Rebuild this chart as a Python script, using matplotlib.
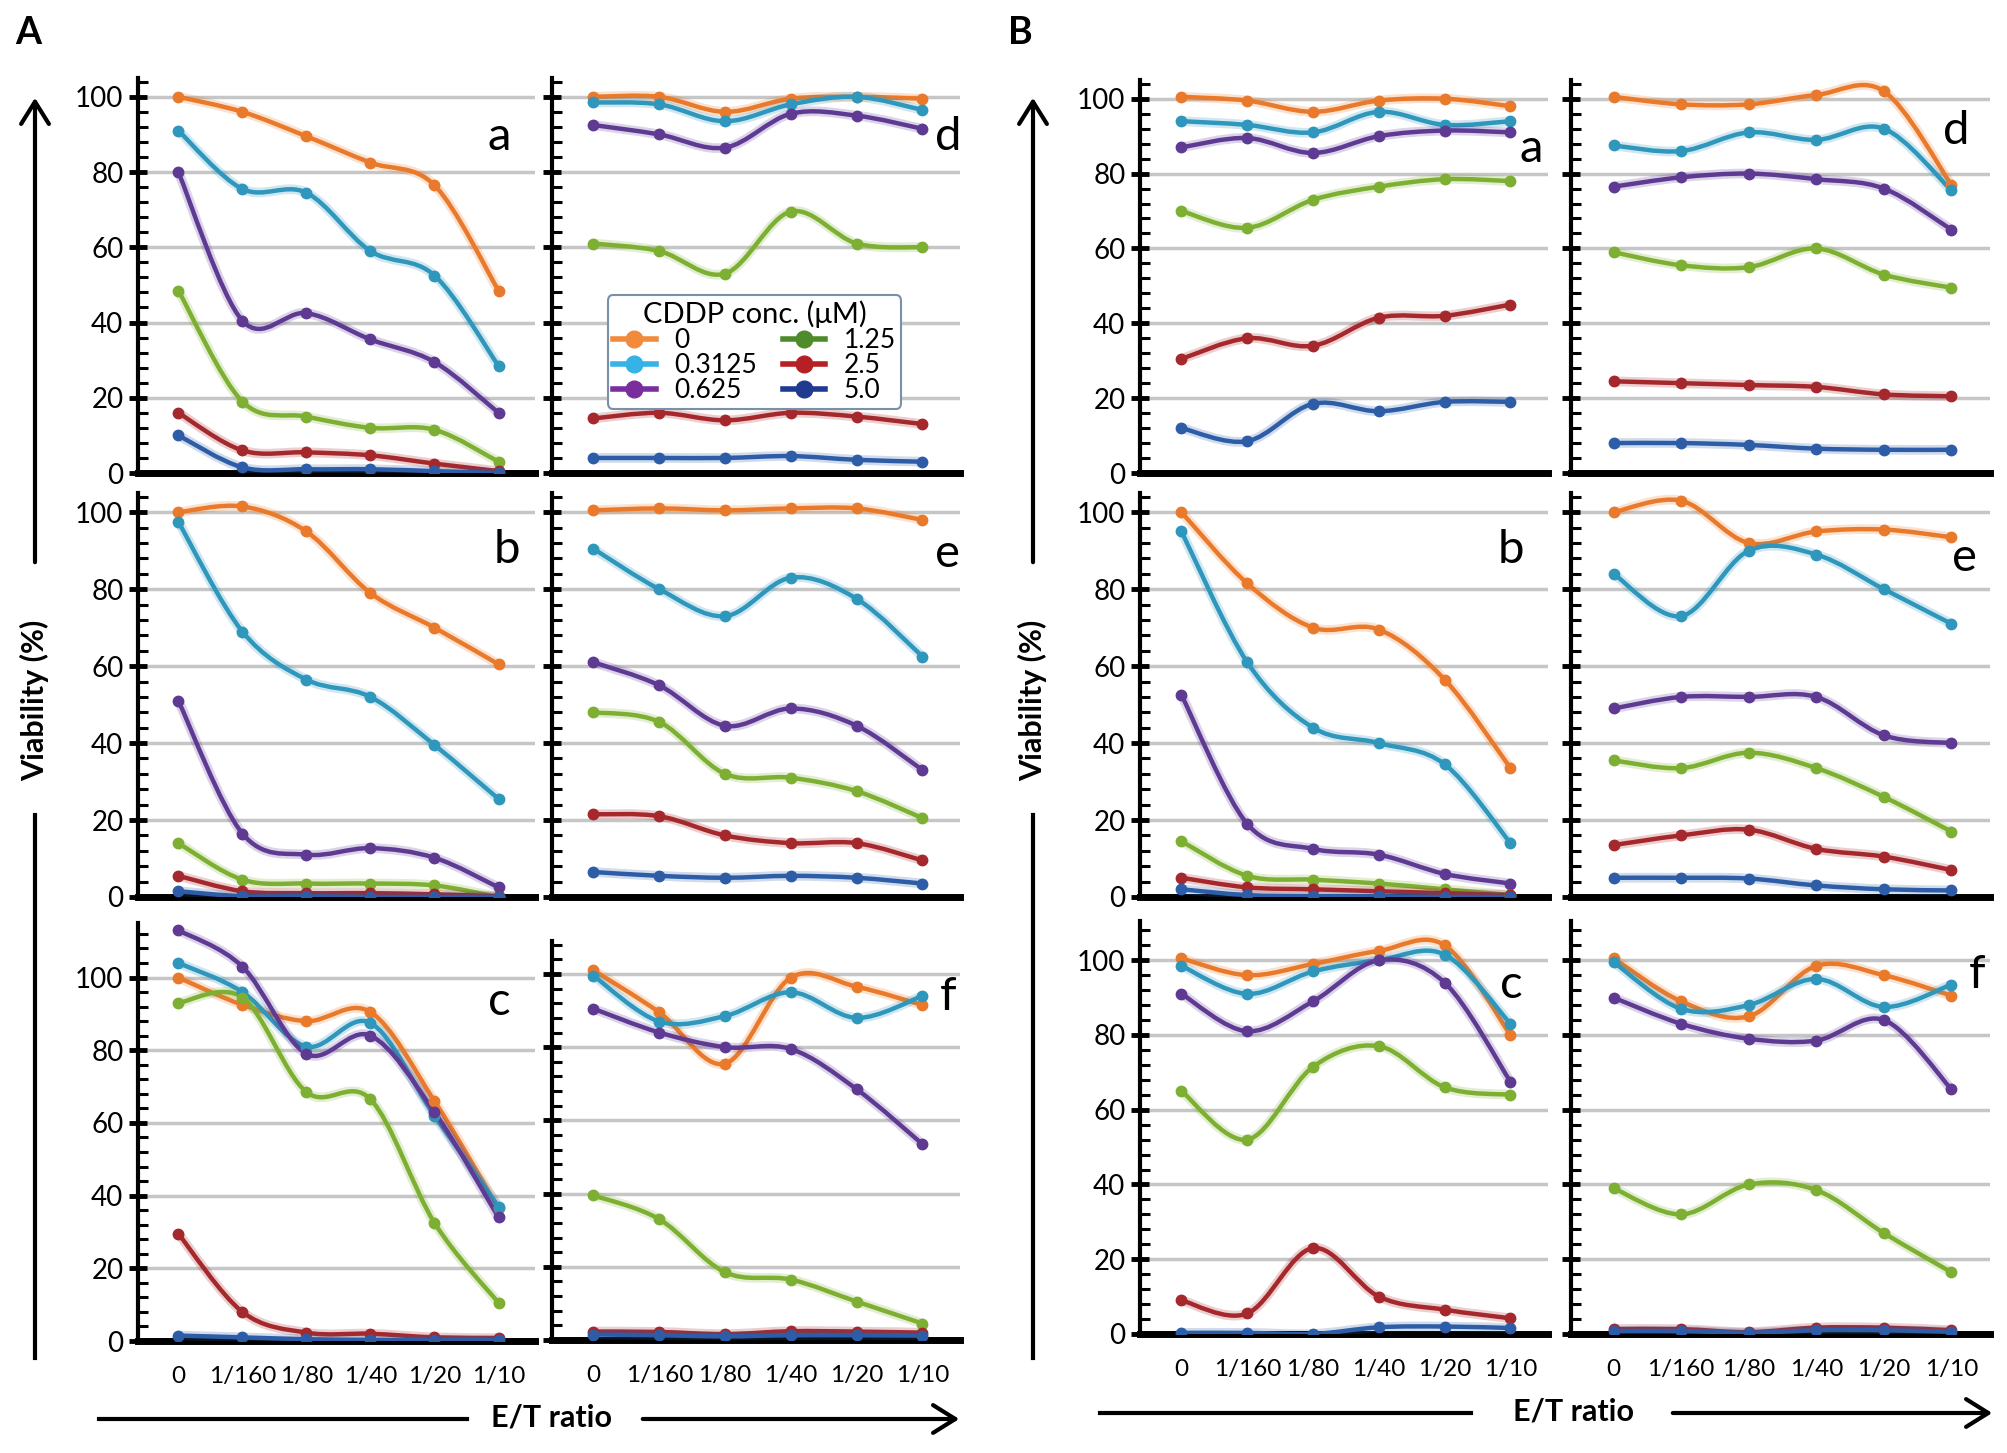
import numpy as np
import matplotlib
matplotlib.use('Agg')
import matplotlib.pyplot as plt
import matplotlib.patheffects as pe
from matplotlib.path import Path
from matplotlib.patches import PathPatch, FancyArrowPatch
from matplotlib.lines import Line2D

plt.rcParams['font.family'] = ['Lato', 'DejaVu Sans']

# E/T ratio categories and CDDP concentrations
ratios = ['0', '1/160', '1/80', '1/40', '1/20', '1/10']
concs = ['0', '0.3125', '0.625', '1.25', '2.5', '5.0']

# viability (%), one list per concentration (0, 0.3125, 0.625, 1.25, 2.5, 5.0)
A_a = [[100, 96, 89.5, 82.5, 76.5, 48.5],
       [91, 75.5, 74.5, 59, 52.5, 28.5],
       [80, 40.5, 42.5, 35.5, 29.5, 16],
       [48.5, 19, 15, 12, 11.5, 3],
       [16, 6, 5.5, 4.7, 2.5, 0.5],
       [10, 1.5, 1, 1, 0.5, 0]]
A_d = [[100, 100, 96, 99.5, 100, 99.5],
       [98.5, 98, 93.5, 98, 100, 96.5],
       [92.5, 90, 86.5, 95.5, 95, 91.5],
       [61, 59, 53, 69.5, 61, 60],
       [14.5, 16, 14, 16, 15, 13],
       [4, 4, 4, 4.5, 3.5, 3]]
A_b = [[100, 101.5, 95, 79, 70, 60.5],
       [97.5, 69, 56.5, 52, 39.5, 25.5],
       [51, 16.5, 11, 12.7, 10.2, 2.5],
       [14, 4.5, 3.5, 3.5, 3, 0],
       [5.5, 1.5, 1, 1, 0.7, 0.2],
       [1.5, 0.2, 0.2, 0, 0, 0]]
A_e = [[100.5, 101, 100.5, 101, 101, 98],
       [90.5, 80, 73, 83, 77.5, 62.5],
       [61, 55, 44.5, 49, 44.5, 33],
       [48, 45.5, 32, 31, 27.5, 20.5],
       [21.5, 21, 16, 14, 14, 9.5],
       [6.5, 5.5, 5, 5.5, 5, 3.5]]
A_c = [[100, 92.5, 88, 90.5, 66, 36.5],
       [104, 96, 81, 87.5, 62, 37],
       [113, 103, 79, 84, 63, 34],
       [93, 94.5, 68.5, 66.5, 32.5, 10.5],
       [29.5, 8, 2.3, 2, 1, 0.8],
       [1.5, 1, 0.5, 0.3, 0.3, 0.3]]
A_f = [[101, 89.5, 75.5, 99, 96.5, 91.5],
       [99.5, 87, 88.5, 95, 88, 94],
       [90.5, 84, 80, 79.5, 68.5, 53.5],
       [39.5, 33, 18.5, 16.5, 10.5, 4.5],
       [2.3, 2.2, 1.6, 2.4, 2.3, 2],
       [1.5, 1.3, 1, 1.3, 1.3, 1.2]]

B_a = [[100.5, 99.5, 96.5, 99.5, 100, 98],
       [94, 93, 91, 96.5, 93, 94],
       [87, 89.5, 85.5, 90, 91.5, 91],
       [70, 65.5, 73, 76.5, 78.5, 78],
       [30.5, 36, 34, 41.5, 42, 45],
       [12, 8.5, 18.5, 16.5, 19, 19]]
B_d = [[100.5, 98.5, 98.5, 101, 102, 77],
       [87.5, 86, 91, 89, 92, 75.5],
       [76.5, 79, 80, 78.5, 76, 65],
       [59, 55.5, 55, 60, 53, 49.5],
       [24.5, 24, 23.5, 23, 21, 20.5],
       [8, 8, 7.5, 6.5, 6.2, 6.2]]
B_b = [[100, 81.5, 70, 69.5, 56.5, 33.5],
       [95, 61, 44, 40, 34.5, 14],
       [52.5, 19, 12.5, 11, 6, 3.5],
       [14.5, 5.5, 4.5, 3.5, 2, 0.5],
       [5, 2.5, 2, 1.5, 1, 0.5],
       [2, 0.5, 0.2, 0.2, 0, 0]]
B_e = [[100, 103, 92, 95, 95.5, 93.5],
       [84, 73, 90, 89, 80, 71],
       [49, 52, 52, 52, 42, 40],
       [35.5, 33.5, 37.5, 33.5, 26, 17],
       [13.5, 16, 17.5, 12.5, 10.5, 7],
       [5, 5, 4.8, 3, 2, 1.7]]
B_c = [[100.5, 96, 99, 102.5, 104, 80],
       [98.5, 91, 97, 100, 101.5, 83],
       [91, 81, 89, 100, 94, 67.5],
       [65, 52, 71.5, 77, 66, 64],
       [9, 5.5, 23, 10, 6.5, 4.2],
       [0.3, 0.3, 0, 1.8, 2, 1.6]]
B_f = [[100.5, 89, 85, 98.5, 96, 90.5],
       [99.5, 87, 88, 95, 87.5, 93.5],
       [90, 83, 79, 78.5, 84, 65.5],
       [39, 32, 40, 38.5, 27, 16.5],
       [1.3, 1.3, 0.5, 1.7, 1.7, 1],
       [0.8, 0.8, 0.3, 1, 1, 0.6]]

line_colors = ['#E97A2B', '#2F96BC', '#5E3A93', '#7DAF32', '#A5282C', '#2D5DA6']
legend_colors = ['#F28A3C', '#35B2E6', '#7A2E9E', '#4E8B2B', '#B52025', '#1F3A8F']

W, H = 2008, 1453
fig = plt.figure(figsize=(W / 100, H / 100), dpi=100)


def rect(l, r, t, b):
    return [l / W, 1 - b / H, (r - l) / W, (b - t) / H]


def smooth_path(x, y):
    # excel-style smoothed line (bezier through the points)
    n = len(x)
    verts = [(x[0], y[0])]
    codes = [Path.MOVETO]
    for i in range(n - 1):
        xa, ya = (x[i - 1], y[i - 1]) if i > 0 else (x[i], y[i])
        xb, yb = (x[i + 2], y[i + 2]) if i + 2 < n else (x[i + 1], y[i + 1])
        c1 = (x[i] + (x[i + 1] - xa) / 6, y[i] + (y[i + 1] - ya) / 6)
        c2 = (x[i + 1] - (xb - x[i]) / 6, y[i + 1] - (yb - y[i]) / 6)
        verts += [c1, c2, (x[i + 1], y[i + 1])]
        codes += [Path.CURVE4] * 3
    return Path(verts, codes)


def panel(box, data, ymax, letter, lpos, left=True, bottom=False):
    ax = fig.add_axes(rect(*box))
    xs = np.arange(len(ratios))
    for vals, c in zip(data, line_colors):
        glow = [pe.Stroke(linewidth=7, foreground=c, alpha=0.22), pe.Normal()]
        ax.add_patch(PathPatch(smooth_path(xs, vals), facecolor='none',
                               edgecolor=c, lw=3.2, zorder=3, path_effects=glow))
        ax.plot(xs, vals, 'o', color=c, ms=7.5, zorder=4)
    ax.set_xlim(-0.63, 5.57)
    ax.set_ylim(0, ymax)
    ax.set_yticks([0, 20, 40, 60, 80, 100])
    ax.set_yticks(np.arange(0, ymax, 4), minor=True)
    ax.yaxis.grid(True, color='#c6c6c6', lw=2.5)
    ax.set_axisbelow(True)
    for s in ['top', 'right']:
        ax.spines[s].set_visible(False)
    ax.spines['bottom'].set_linewidth(5)
    ax.spines['left'].set_linewidth(3)
    ax.tick_params(axis='y', which='major', direction='inout', length=13,
                   width=3.5, labelsize=20, pad=4)
    ax.tick_params(axis='y', which='minor', direction='in', length=7,
                   width=2.2)
    if not left:
        ax.tick_params(axis='y', labelleft=False)
    ax.set_xticks(xs)
    if bottom:
        ax.set_xticklabels(ratios, fontsize=17.5)
        ax.tick_params(axis='x', length=0, pad=18)
    else:
        ax.tick_params(axis='x', length=0, labelbottom=False)
    ax.text(lpos[0], lpos[1], letter, transform=ax.transAxes, fontsize=34,
            ha='center', va='center')
    return ax


# panel A
panel((138, 535, 78, 473), A_a, 105, 'a', (0.91, 0.85))
axd = panel((552, 960, 78, 473), A_d, 105, 'd', (0.97, 0.85), left=False)
panel((138, 535, 493, 897), A_b, 105, 'b', (0.93, 0.86))
panel((552, 960, 493, 897), A_e, 105, 'e', (0.97, 0.85), left=False)
panel((138, 535, 923, 1341), A_c, 115, 'c', (0.91, 0.81), bottom=True)
panel((552, 960, 941, 1340), A_f, 109, 'f', (0.97, 0.86), left=False,
      bottom=True)

# panel B
panel((1140, 1548, 80, 473), B_a, 105, 'a', (0.96, 0.825))
panel((1571, 1990, 80, 473), B_d, 105, 'd', (0.92, 0.87), left=False)
panel((1140, 1548, 493, 897), B_b, 105, 'b', (0.91, 0.86))
panel((1571, 1990, 493, 897), B_e, 105, 'e', (0.94, 0.84), left=False)
panel((1140, 1548, 921, 1334), B_c, 110.5, 'c', (0.91, 0.845), bottom=True)
panel((1571, 1990, 921, 1334), B_f, 110.5, 'f', (0.97, 0.87), left=False,
      bottom=True)

# legend inside A-d
handles = [Line2D([], [], color=c, marker='o', ms=12, lw=4) for c in legend_colors]
leg = axd.legend(handles, concs, loc='upper left', bbox_to_anchor=(0.105, 0.483),
                 ncol=2, fontsize=19, title='CDDP conc. (μM)', title_fontsize=21,
                 labelspacing=0.0, handlelength=1.6, handletextpad=0.7,
                 columnspacing=1.0, borderpad=0.2, fancybox=True, framealpha=1)
leg.get_frame().set_edgecolor('#7890aa')
leg.get_frame().set_linewidth(1.5)
leg.set_zorder(10)


def fx(x):
    return x / W


def fy(y):
    return 1 - y / H


def fig_line(x0, y0, x1, y1, arrow=False):
    if arrow:
        a = FancyArrowPatch((fx(x0), fy(y0)), (fx(x1), fy(y1)),
                            transform=fig.transFigure,
                            arrowstyle='->,head_length=0.8,head_width=0.5',
                            mutation_scale=20, lw=3, color='black')
        fig.add_artist(a)
    else:
        fig.add_artist(Line2D([fx(x0), fx(x1)], [fy(y0), fy(y1)],
                              transform=fig.transFigure, lw=3, color='black'))


# panel letters
fig.text(fx(28), fy(33), 'A', fontsize=27, fontweight='bold', ha='center', va='center')
fig.text(fx(1020), fy(33), 'B', fontsize=27, fontweight='bold', ha='center', va='center')

# y axis arrows and labels
for x0 in [35, 1033]:
    fig_line(x0, 1358, x0, 815)
    fig_line(x0, 565, x0, 95, arrow=True)
    fig.text(fx(x0), fy(700), 'Viability (%)', rotation=90, fontsize=22,
             fontweight='bold', ha='center', va='center')

# x axis arrows and labels
fig_line(99, 1419, 467, 1419)
fig_line(640, 1419, 962, 1419, arrow=True)
fig.text(fx(552), fy(1418), 'E/T ratio', fontsize=22, fontweight='bold',
         ha='center', va='center')
fig_line(1100, 1413, 1471, 1413)
fig_line(1670, 1413, 1995, 1413, arrow=True)
fig.text(fx(1574), fy(1411), 'E/T ratio', fontsize=22, fontweight='bold',
         ha='center', va='center')

fig.savefig('out.png', dpi=100)
